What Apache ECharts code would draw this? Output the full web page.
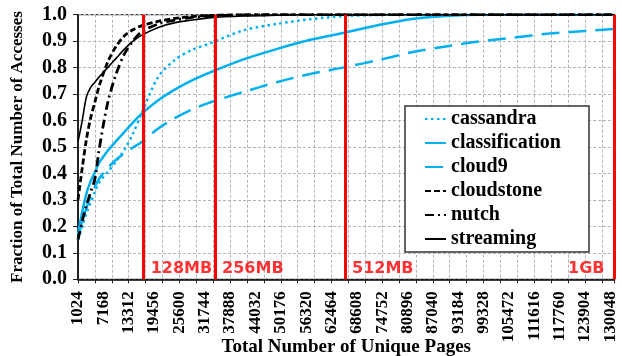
<!DOCTYPE html>
<html>
<head>
<meta charset="utf-8">
<script src="https://cdn.jsdelivr.net/npm/echarts@6/dist/echarts.min.js"></script>
<style>
  html, body { margin: 0; padding: 0; background: #ffffff; }
  #chart { width: 622px; height: 356px; }
</style>
</head>
<body>
<div id="chart"></div>
<script>
// Sample points along the x axis (number of unique pages touched)
const pages = [1024, 2048, 3072, 4096, 5120, 6144, 8192, 10240, 12288, 14336, 16384,
  20480, 24576, 28672, 32768, 40960, 49152, 57344, 65536, 73728, 81920, 90112,
  98304, 106496, 114688, 122880, 131072];

// Cumulative fraction of accesses per workload, one value per entry of `pages`
const cassandra = [0.15, 0.20, 0.25, 0.29, 0.33, 0.365, 0.405, 0.445, 0.49, 0.55, 0.625,
  0.765, 0.83, 0.867, 0.89, 0.94, 0.965, 0.983, 0.995, 0.999, 1, 1, 1, 1, 1, 1, 1];
const classification = [0.17, 0.255, 0.325, 0.37, 0.405, 0.44, 0.485, 0.522, 0.557, 0.592, 0.625,
  0.677, 0.718, 0.752, 0.78, 0.83, 0.87, 0.905, 0.932, 0.96, 0.984, 0.995, 1, 1, 1, 1, 1];
const cloud9 = [0.15, 0.22, 0.27, 0.315, 0.35, 0.38, 0.42, 0.452, 0.477, 0.498, 0.518,
  0.57, 0.61, 0.642, 0.667, 0.707, 0.745, 0.776, 0.801, 0.828, 0.858, 0.88, 0.899, 0.913, 0.928, 0.937, 0.946];
const cloudstone = [0.30, 0.42, 0.53, 0.61, 0.67, 0.73, 0.82, 0.88, 0.92, 0.943, 0.958,
  0.975, 0.986, 0.993, 0.997, 1, 1, 1, 1, 1, 1, 1, 1, 1, 1, 1, 1];
const nutch = [0.15, 0.22, 0.28, 0.33, 0.38, 0.49, 0.665, 0.775, 0.852, 0.90, 0.935,
  0.965, 0.98, 0.99, 0.995, 0.999, 1, 1, 1, 1, 1, 1, 1, 1, 1, 1, 1];
const streaming = [0.52, 0.60, 0.69, 0.725, 0.745, 0.765, 0.80, 0.835, 0.87, 0.90, 0.922,
  0.952, 0.97, 0.98, 0.988, 0.995, 0.998, 1, 1, 1, 1, 1, 1, 1, 1, 1, 1];

// Labelled x positions (pages)
const xTickLabels = [1024, 7168, 13312, 19456, 25600, 31744, 37888, 44032, 50176, 56320,
  62464, 68608, 74752, 80896, 87040, 93184, 99328, 105472, 111616, 117760, 123904, 130048];

// Cache-size markers (position in pages) and their captions
const cacheMarkPages = [16950, 34250, 65750, 131072];
const cacheMarkNames = ['128MB', '256MB', '512MB', '1GB'];

const BLUE = '#00b0f0';
const BLACK = '#000000';
const SERIF = '"Liberation Serif", "Times New Roman", serif';

const workloads = [
  { name: 'cassandra',      values: cassandra,      color: BLUE,  width: 2.5, dash: [2.5, 3.5] },
  { name: 'classification', values: classification, color: BLUE,  width: 2.5, dash: 'solid' },
  { name: 'cloud9',         values: cloud9,         color: BLUE,  width: 2.5, dash: [18, 9] },
  { name: 'cloudstone',     values: cloudstone,     color: BLACK, width: 2.8, dash: [6, 3] },
  { name: 'nutch',          values: nutch,          color: BLACK, width: 2.8, dash: [9, 4, 2, 4] },
  { name: 'streaming',      values: streaming,      color: BLACK, width: 1.6, dash: 'solid' }
];

const lineSeries = workloads.map(w => ({
  type: 'line',
  name: w.name,
  data: pages.map((p, i) => [p, w.values[i]]),
  symbol: 'none',
  symbolSize: 0,
  showSymbol: false,
  smooth: 0.3,
  clip: true,
  lineStyle: { color: w.color, width: w.width, type: w.dash, cap: 'butt' },
  itemStyle: { color: w.color, opacity: 0 },
  emphasis: { disabled: true },
  z: 3
}));

const markerSeries = {
  type: 'scatter',
  name: 'cache sizes',
  symbolSize: 0,
  silent: true,
  z: 6,
  data: cacheMarkPages.map((p, i) => ({
    value: [p, 0.038],
    name: cacheMarkNames[i],
    label: {
      show: true,
      formatter: '{b}',
      position: i === cacheMarkPages.length - 1 ? 'left' : 'right',
      distance: i === cacheMarkPages.length - 1 ? 10 : 7,
      color: '#ff0000',
      fontFamily: '"DejaVu Sans", Verdana, sans-serif',
      fontWeight: 'bold',
      fontSize: 16
    }
  })),
  markLine: {
    silent: true,
    symbol: ['none', 'none'],
    label: { show: false },
    lineStyle: { color: '#ff0000', width: 3, type: 'solid' },
    data: cacheMarkPages.map(p => ({ xAxis: p }))
  }
};

const chart = echarts.init(document.getElementById('chart'), null, { renderer: 'canvas' });

chart.setOption({
  animation: false,
  backgroundColor: '#ffffff',
  grid: {
    left: 78, right: 7.5, top: 14.7, bottom: 76.7,
    outerBoundsMode: 'none',
    containLabel: false,
    show: true, borderColor: '#000000', borderWidth: 1, backgroundColor: 'transparent'
  },
  legend: {
    data: workloads.map(w => w.name),
    orient: 'vertical',
    left: 405,
    top: 106,
    backgroundColor: '#ffffff',
    borderColor: '#333333',
    borderWidth: 1.5,
    borderRadius: 0,
    padding: [3, 28, 3, 19],
    itemGap: 4,
    itemWidth: 21,
    itemHeight: 14,
    selectedMode: false,
    itemStyle: { opacity: 0 },
    lineStyle: { opacity: 1 },
    textStyle: { fontFamily: SERIF, fontWeight: 'bold', fontSize: 20, color: '#000000' }
  },
  xAxis: {
    type: 'value',
    min: 1024,
    max: 131072,
    interval: 4096,
    name: 'Total Number of Unique Pages',
    nameLocation: 'middle',
    nameGap: 58,
    nameMoveOverlap: false,
    nameTextStyle: { fontFamily: SERIF, fontWeight: 'bold', fontSize: 19, color: '#000000', verticalAlign: 'top' },
    axisLine: { show: true, lineStyle: { color: '#000000', width: 1.5 } },
    axisTick: { show: true, inside: false, length: 4, lineStyle: { color: '#222222', width: 1 } },
    axisLabel: {
      customValues: xTickLabels,
      formatter: v => String(v),
      rotate: 90,
      margin: 12,
      fontFamily: SERIF,
      fontWeight: 'bold',
      fontSize: 17,
      color: '#000000'
    },
    splitLine: { show: true, lineStyle: { color: '#b4b4b4', width: 1, type: [3, 2] } }
  },
  yAxis: {
    type: 'value',
    min: 0,
    max: 1,
    interval: 0.1,
    name: 'Fraction of Total Number of Accesses',
    nameLocation: 'middle',
    nameGap: 52,
    nameMoveOverlap: false,
    nameTextStyle: { fontFamily: SERIF, fontWeight: 'bold', fontSize: 17, color: '#000000' },
    axisLine: { show: true, lineStyle: { color: '#222222', width: 2 } },
    axisTick: { show: true, inside: false, length: 5, lineStyle: { color: '#222222', width: 1 } },
    axisLabel: {
      margin: 11,
      formatter: v => v.toFixed(1),
      fontFamily: SERIF,
      fontWeight: 'bold',
      fontSize: 20,
      color: '#000000'
    },
    splitLine: { show: true, lineStyle: { color: '#b4b4b4', width: 1, type: [3, 2] } }
  },
  series: [...lineSeries, markerSeries]
});
</script>
</body>
</html>
